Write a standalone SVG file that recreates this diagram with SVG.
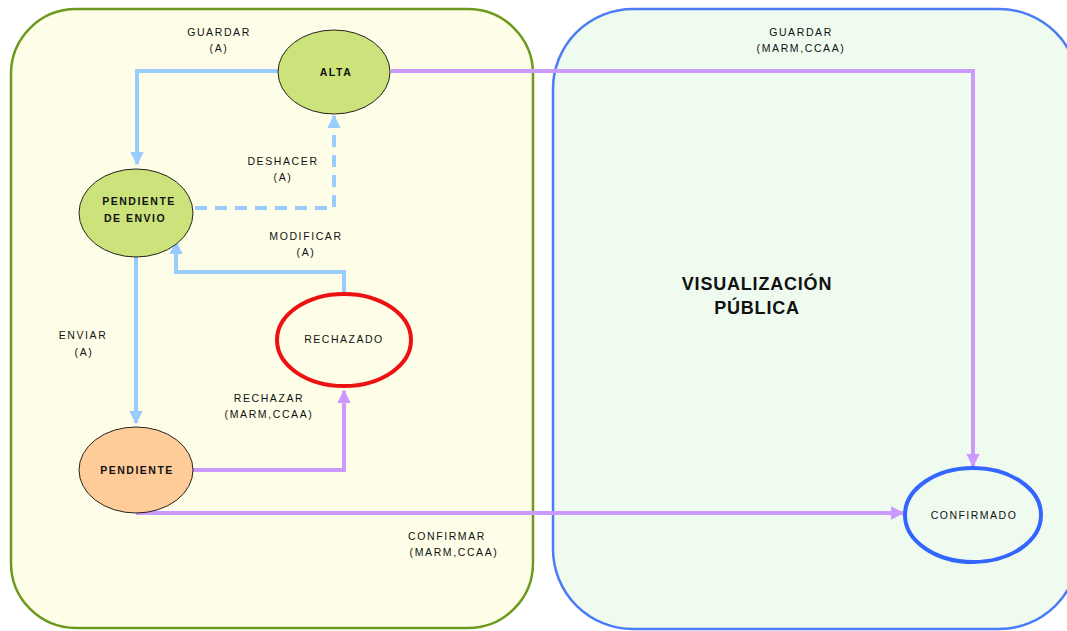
<svg xmlns="http://www.w3.org/2000/svg" width="1067" height="631" viewBox="0 0 1067 631">
<defs>
<style>
.lbl{font-family:"Liberation Sans",Arial,sans-serif;font-size:10.5px;fill:#111;text-anchor:middle;letter-spacing:1.6px}
.node{font-family:"Liberation Sans",Arial,sans-serif;font-size:10.5px;font-weight:bold;fill:#111;text-anchor:middle;letter-spacing:1.5px}
.title{font-family:"Liberation Sans",Arial,sans-serif;font-size:18px;font-weight:bold;fill:#111;text-anchor:middle;letter-spacing:0.8px}
.blue{fill:none;stroke:#99CCFF;stroke-width:4}
.purple{fill:none;stroke:#CC99FF;stroke-width:4}
</style>
<marker id="ab" viewBox="0 0 10 10" refX="9" refY="5" markerWidth="3.4" markerHeight="3.4" orient="auto" markerUnits="strokeWidth">
<path d="M0,0 L10,5 L0,10 z" fill="#99CCFF"/>
</marker>
<marker id="ap" viewBox="0 0 10 10" refX="9" refY="5" markerWidth="3.4" markerHeight="3.4" orient="auto" markerUnits="strokeWidth">
<path d="M0,0 L10,5 L0,10 z" fill="#CC99FF"/>
</marker>
</defs>
<rect width="1067" height="631" fill="#ffffff"/>
<g id="zona-privada">
<rect x="11" y="9" width="522" height="619" rx="65" ry="65" fill="#FEFEE8" stroke="#6B9A1F" stroke-width="2.5"/>
</g>
<g id="zona-publica">
<rect x="553" y="9" width="526" height="620" rx="80" ry="80" fill="#F0FBF0" stroke="#4A7CF7" stroke-width="2.5"/>
<text class="title" x="757" y="290">VISUALIZACIÓN</text>
<text class="title" x="757" y="314">PÚBLICA</text>
</g>
<g id="connectors">
<path class="blue" d="M278,71 H137 V164" marker-end="url(#ab)"/>
<path class="blue" d="M195,208 H334 V116" stroke-dasharray="12,8" marker-end="url(#ab)"/>
<path class="blue" d="M344,295 V272 H176 V242" marker-end="url(#ab)"/>
<path class="blue" d="M136,257 V423" marker-end="url(#ab)"/>
<path class="purple" d="M193,470 H344 V391" marker-end="url(#ap)"/>
<path class="purple" d="M136,513 H903" marker-end="url(#ap)"/>
<path class="purple" d="M391,71 H973 V466" marker-end="url(#ap)"/>
<text class="lbl" x="219" y="36">GUARDAR</text>
<text class="lbl" x="219" y="52">(A)</text>
<text class="lbl" x="283" y="165">DESHACER</text>
<text class="lbl" x="283" y="181">(A)</text>
<text class="lbl" x="306" y="240">MODIFICAR</text>
<text class="lbl" x="306" y="256">(A)</text>
<text class="lbl" x="83" y="339">ENVIAR</text>
<text class="lbl" x="84" y="356">(A)</text>
<text class="lbl" x="269" y="402">RECHAZAR</text>
<text class="lbl" x="269" y="418">(MARM,CCAA)</text>
<text class="lbl" x="447" y="540">CONFIRMAR</text>
<text class="lbl" x="454" y="556">(MARM,CCAA)</text>
<text class="lbl" x="801" y="36">GUARDAR</text>
<text class="lbl" x="801" y="52">(MARM,CCAA)</text>
</g>
<g id="alta">
<ellipse cx="334" cy="72" rx="56" ry="42" fill="#CCE27A" stroke="#222" stroke-width="1"/>
<text class="node" x="336" y="76">ALTA</text>
</g>
<g id="pendiente-envio">
<ellipse cx="136" cy="213" rx="57" ry="44" fill="#CCE27A" stroke="#222" stroke-width="1"/>
<text class="node" x="139" y="205">PENDIENTE</text>
<text class="node" x="135" y="222">DE ENVIO</text>
</g>
<g id="rechazado">
<ellipse cx="344" cy="340" rx="67" ry="46" fill="#FEFEE8" stroke="#EE1111" stroke-width="4"/>
<text class="node" x="344" y="343" style="font-weight:normal">RECHAZADO</text>
</g>
<g id="pendiente">
<ellipse cx="136" cy="470" rx="57" ry="43" fill="#FFCC99" stroke="#222" stroke-width="1"/>
<text class="node" x="137" y="474">PENDIENTE</text>
</g>
<g id="confirmado">
<ellipse cx="973" cy="515" rx="68" ry="47" fill="#F0FBF0" stroke="#3366FF" stroke-width="4"/>
<text class="node" x="974" y="519" style="font-weight:normal">CONFIRMADO</text>
</g>
</svg>
